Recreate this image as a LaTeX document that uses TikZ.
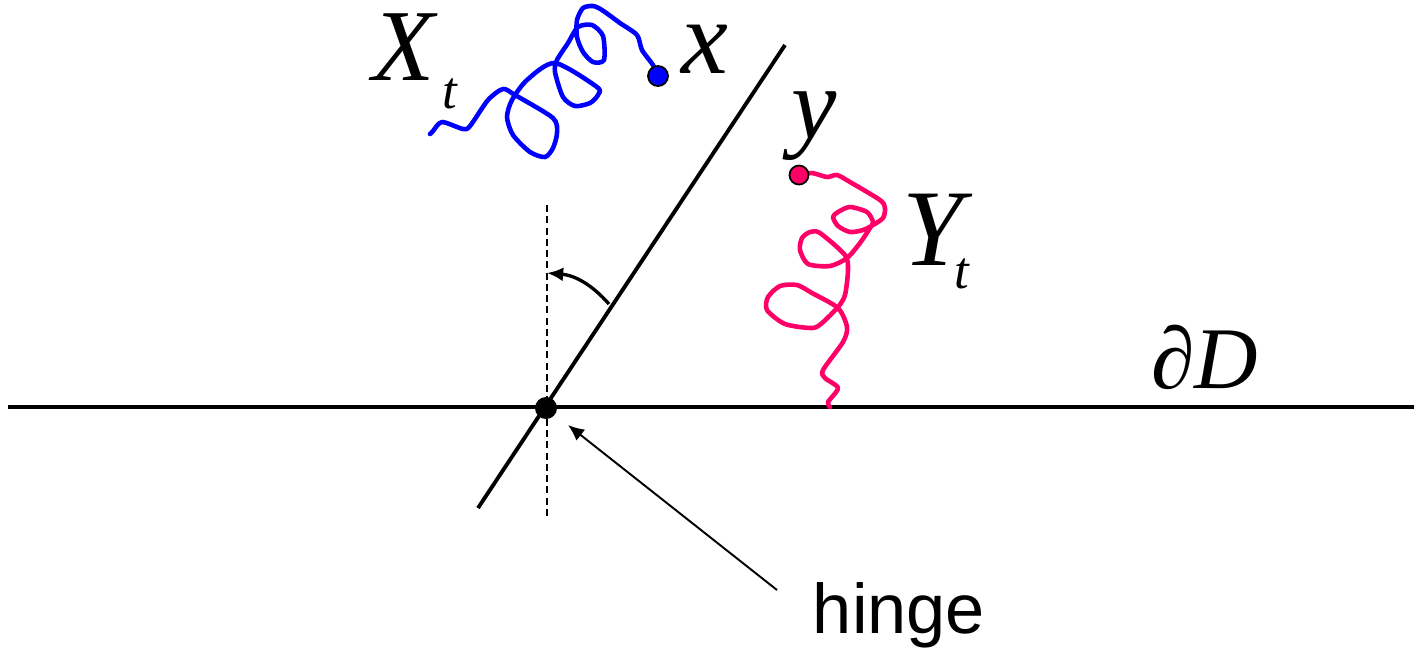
\documentclass[tikz,border=0pt]{standalone}
\usepackage{fontspec}
\setmainfont{Liberation Serif}
\newfontfamily\sansf{Liberation Sans}
\usetikzlibrary{arrows.meta}
\definecolor{pathblue}{RGB}{0,0,255}
\definecolor{pathred}{RGB}{255,0,102}
\tikzset{
  mainline/.style={line width=1.1pt, black},
  walkline/.style={line width=1.3pt, line join=round, line cap=round},
  dashline/.style={line width=0.55pt, dash pattern=on 2pt off 1.2pt},
  arrowline/.style={-{Latex[length=4.6pt,width=4pt]}},
  dot/.style={circle, inner sep=0pt, minimum size=0.2cm, draw=black, line width=0.5pt},
  lab/.style={inner sep=0pt, font=\itshape},
}
\begin{document}
\begin{tikzpicture}[x=0.01cm, y=-0.01cm]
\useasboundingbox (0,0) rectangle (1414,653);
% coordinates
\coordinate (L1) at (8,407);
\coordinate (L2) at (1414,407);
\coordinate (S1) at (478,508);
\coordinate (S2) at (785,45);
\coordinate (V1) at (547,205);
\coordinate (V2) at (547,520);
\coordinate (A1) at (609,304);
\coordinate (A2) at (547,273);
\coordinate (H1) at (777,590);
\coordinate (H2) at (568,425);
% lines
\draw[mainline] (L1) -- (L2);
\draw[mainline] (S1) -- (S2);
\draw[dashline] (V1) -- (V2);
\draw[mainline, line width=0.95pt, arrowline] (A1) to[bend right=22] (A2);
\draw[line width=0.55pt, arrowline] (H1) -- (H2);
\node[circle, fill=black, inner sep=0pt, minimum size=0.22cm] (hingept) at (546,408) {};
% blue walk
\draw[walkline, pathblue] plot[smooth, tension=0.45] coordinates {
 (430,134) (433,131) (442,122) (463,129) (470,126) (488,100) (503,89) (515,95)
 (553,118) (557,133) (553,148) (545,157) (530,152) (513,135) (507,117) (512,100)
 (527,80) (555,63) (597,87) (598,95) (590,103) (575,106) (563,97) (555,72)
 (557,60) (568,43) (578,27) (592,25) (603,36) (604,60) (593,62) (583,52)
 (577,37) (577,20) (583,8) (593,6) (602,10) (620,23) (637,35) (642,50)
 (653,65) (657,75)};
% red walk
\draw[walkline, pathred] plot[smooth, tension=0.45] coordinates {
 (800,175) (812,173) (827,177) (837,175) (850,182) (880,200) (885,208) (883,218)
 (873,225) (863,230) (850,232) (838,226) (833,217) (838,212) (850,207) (867,212)
 (873,222) (870,228) (860,243) (847,258) (830,266) (808,264) (800,250) (802,238)
 (810,232) (820,233) (845,255) (848,270) (845,295) (838,307) (822,323) (812,328)
 (785,324) (767,310) (768,297) (780,286) (797,285) (812,293) (838,308) (847,327)
 (843,342) (823,370) (825,378) (838,388) (828,402) (830,407)};
% dots
\node[dot, fill=pathblue] (xpt) at (658,76) {};
\node[dot, fill=pathred, minimum size=0.19cm] (ypt) at (799,175) {};
% labels
\node[lab, font=\fontsize{29}{29}\selectfont\itshape] (Xlab) at (404,47) {X};
\node[lab, font=\fontsize{15}{15}\selectfont\itshape] (Xsub) at (450,94) {t};
\node[lab, font=\fontsize{30}{30}\selectfont\itshape] (xlab) at (705,49) {x};
\node[lab, font=\fontsize{29}{29}\selectfont\itshape] (ylab) at (814,126) {y};
\node[lab, font=\fontsize{31}{31}\selectfont\itshape] (Ylab) at (933,230) {Y};
\node[lab, font=\fontsize{15}{15}\selectfont\itshape] (Ysub) at (962,274) {t};
\node[lab, font=\fontsize{25}{25}\selectfont\itshape] (dD) at (1205,357) {∂D};
\node[inner sep=0pt, font=\fontsize{20}{20}\selectfont\sansf] (hinge) at (899,615) {hinge};
\end{tikzpicture}
\end{document}
